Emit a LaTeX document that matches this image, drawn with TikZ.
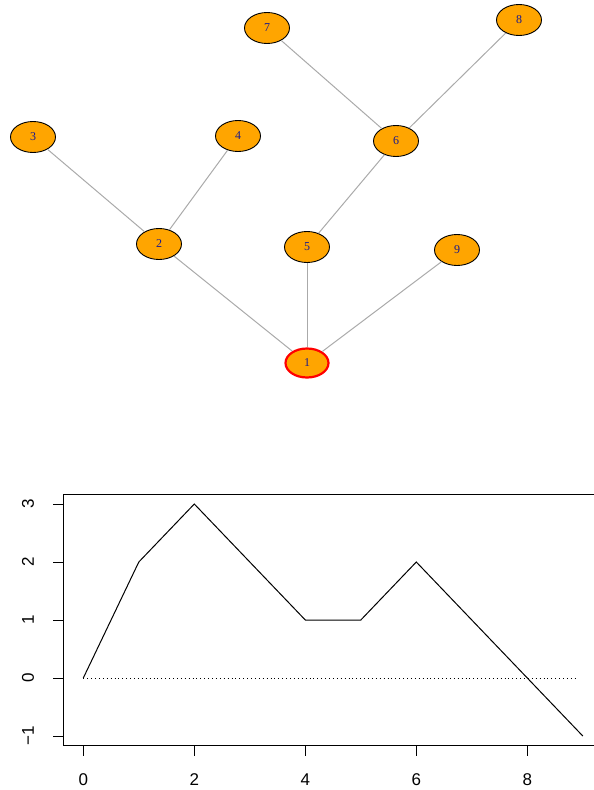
\documentclass[tikz,border=0pt]{standalone}
\usepackage{fontspec}
\setmainfont{Liberation Serif}
\newfontfamily\axisfont{Liberation Sans}
\definecolor{vorange}{HTML}{FFA500}
\definecolor{vlabel}{HTML}{1A1A8C}
\definecolor{vedge}{HTML}{AAAAAA}
\begin{document}
\begin{tikzpicture}[x=1pt,y=-1pt,
  vnode/.style={ellipse,draw=black,line width=0.9pt,fill=vorange,minimum width=45pt,minimum height=31pt,inner sep=0pt,text=vlabel,font=\fontsize{12}{12}\selectfont},
  rootnode/.style={vnode,draw=red,line width=2.2pt,minimum width=43pt,minimum height=29pt},
  vedgeline/.style={draw=vedge,line width=1pt},
  axisline/.style={line width=1pt},
  ticklab/.style={font=\axisfont\fontsize{17}{17}\selectfont,inner sep=0pt},
  dataline/.style={line width=1pt,line join=miter}
]
\useasboundingbox (0,0) rectangle (594,790);
\usetikzlibrary{shapes.geometric}
% nodes
\node[rootnode] (n1) at (307,363) {1};
\node[vnode] (n2) at (159,244) {2};
\node[vnode] (n3) at (33,137) {3};
\node[vnode] (n4) at (238,136) {4};
\node[vnode] (n5) at (307,247) {5};
\node[vnode] (n6) at (396,141) {6};
\node[vnode] (n7) at (267,28) {7};
\node[vnode] (n8) at (519,20) {8};
\node[vnode] (n9) at (457,250) {9};
% edges
\draw[vedgeline] (n1) -- (n2);
\draw[vedgeline] (n1) -- (n5);
\draw[vedgeline] (n1) -- (n9);
\draw[vedgeline] (n2) -- (n3);
\draw[vedgeline] (n2) -- (n4);
\draw[vedgeline] (n5) -- (n6);
\draw[vedgeline] (n6) -- (n7);
\draw[vedgeline] (n6) -- (n8);
% plot box
\draw[axisline] (595,494) -- (63.5,494) -- (63.5,745) -- (595,745);
% y ticks
\foreach \yy in {504,562,620,678,736}{
  \draw[axisline] (53,\yy) -- (63.5,\yy);
}
\node[ticklab,rotate=90] (y3) at (28,504) {3};
\node[ticklab,rotate=90] (y2) at (28,562) {2};
\node[ticklab,rotate=90] (y1) at (28,620) {1};
\node[ticklab,rotate=90] (y0) at (28,678) {0};
\node[ticklab,rotate=90] (ym) at (28,736) {\char"2212 1};
% x ticks
\foreach \xx in {83.3,194.3,305.3,416.3,527.3}{
  \draw[axisline] (\xx,745) -- (\xx,755.5);
}
\node[ticklab] (x0) at (83.3,779.5) {0};
\node[ticklab] (x2) at (194.3,779.5) {2};
\node[ticklab] (x4) at (305.3,779.5) {4};
\node[ticklab] (x6) at (416.3,779.5) {6};
\node[ticklab] (x8) at (527.3,779.5) {8};
% dotted zero line
\draw[line width=0.8pt,dash pattern=on 0.9pt off 3pt] (83.3,678) -- (577,678);
% data
\draw[dataline] (83.3,678) -- (138.8,562) -- (194.3,504) -- (249.8,562) -- (305.3,620) -- (360.8,620) -- (416.3,562) -- (471.8,620) -- (527.3,678) -- (582.8,736);
\end{tikzpicture}
\end{document}
